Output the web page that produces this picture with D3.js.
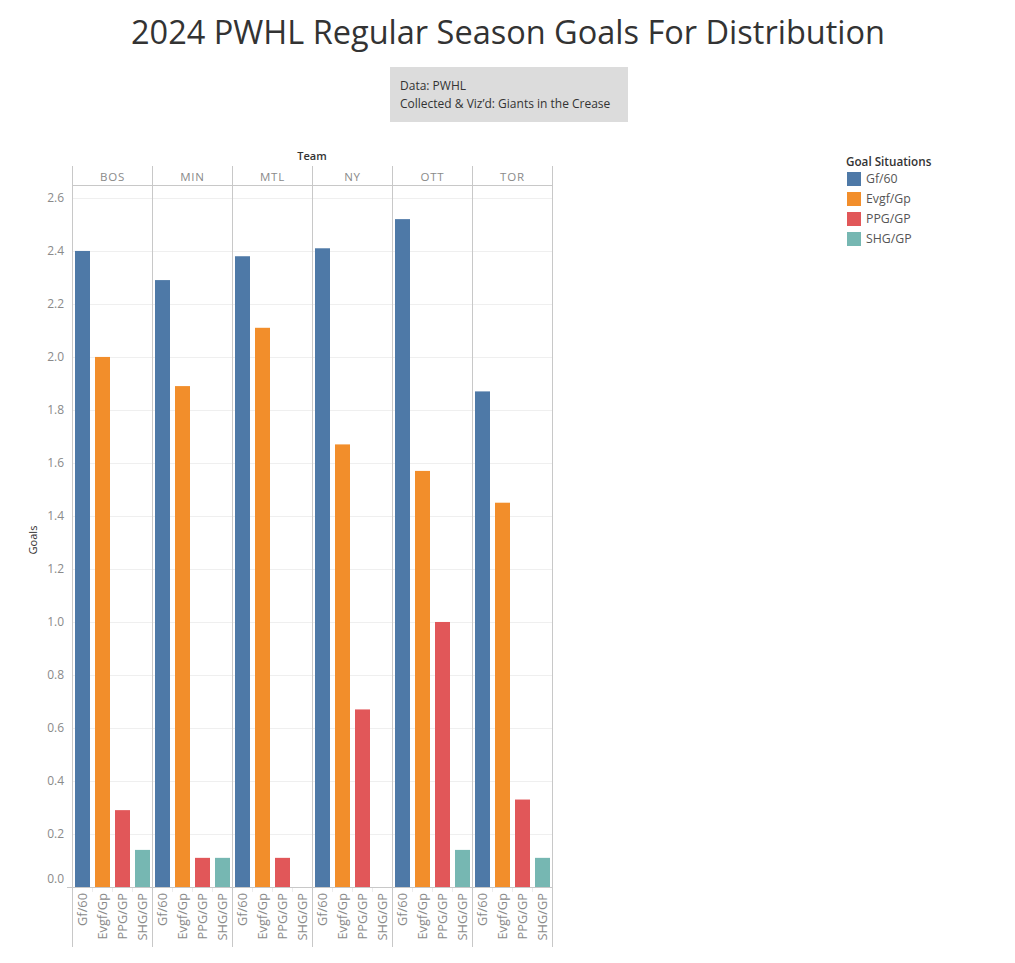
<!DOCTYPE html>
<html>
<head>
<meta charset="utf-8">
<script src="https://cdn.jsdelivr.net/npm/d3@7"></script>
<style>
  body { margin: 0; background: #fff; }
  text { font-family: "Open Sans", "Noto Sans", sans-serif; }
</style>
</head>
<body>
<svg width="1015" height="963"></svg>
<script>
const teams = ["BOS", "MIN", "MTL", "NY", "OTT", "TOR"];
const situations = ["Gf/60", "Evgf/Gp", "PPG/GP", "SHG/GP"];
const colors = ["#4e79a7", "#f28e2b", "#e15759", "#76b7b2"];

// goals per game
const gf60 = [2.40, 2.29, 2.38, 2.41, 2.52, 1.87];
const evgfGp = [2.00, 1.89, 2.11, 1.67, 1.57, 1.45];
const ppgGp = [0.29, 0.11, 0.11, 0.67, 1.00, 0.33];
const shgGp = [0.14, 0.11, 0.00, 0.00, 0.14, 0.11];

const yTicks = [0, 0.2, 0.4, 0.6, 0.8, 1.0, 1.2, 1.4, 1.6, 1.8, 2.0, 2.2, 2.4, 2.6];

document.addEventListener("DOMContentLoaded", function() {
    const svg = d3.select("svg");
    const series = [gf60, evgfGp, ppgGp, shgGp];

    const left = 72.5, right = 552.5;
    const headTop = 166, plotTop = 186, plotBottom = 887, labelBottom = 947;

    const x = d3.scaleBand().domain(teams).range([left, right]);
    const xi = d3.scaleBand().domain(situations).range([0, x.bandwidth()])
        .paddingInner(0.25).paddingOuter(0.125);
    const y = d3.scaleLinear().domain([0, 2.645]).range([plotBottom, plotTop]);
    const color = d3.scaleOrdinal().domain(situations).range(colors);

    // title
    svg.append("text")
        .attr("x", 508).attr("y", 44)
        .attr("text-anchor", "middle")
        .attr("font-size", 32.5)
        .attr("fill", "#333")
        .text("2024 PWHL Regular Season Goals For Distribution");

    // source box
    svg.append("rect")
        .attr("x", 390).attr("y", 67).attr("width", 238).attr("height", 55)
        .attr("fill", "#dcdcdc");
    svg.append("text").attr("x", 400).attr("y", 90)
        .attr("font-size", 12).attr("fill", "#333").text("Data: PWHL");
    svg.append("text").attr("x", 400).attr("y", 108)
        .attr("font-size", 12).attr("fill", "#333").text("Collected & Viz\u2019d: Giants in the Crease");

    // gridlines
    svg.append("g").selectAll("line")
        .data(yTicks.filter(d => d > 0))
        .enter().append("line")
        .attr("x1", left).attr("x2", right)
        .attr("y1", d => Math.round(y(d)) + 0.5).attr("y2", d => Math.round(y(d)) + 0.5)
        .attr("stroke", "#efefef");

    // y axis labels
    svg.append("g").selectAll("text")
        .data(yTicks)
        .enter().append("text")
        .attr("x", 64)
        .attr("y", d => d === 0 ? y(d) - 8 : y(d))
        .attr("dy", "0.35em")
        .attr("text-anchor", "end")
        .attr("font-size", 12)
        .attr("fill", "#8a8a8a")
        .text(d => d3.format(".1f")(d));

    svg.append("text")
        .attr("transform", "translate(37,540) rotate(-90)")
        .attr("text-anchor", "middle")
        .attr("font-size", 11)
        .attr("fill", "#333")
        .text("Goals");

    svg.append("text")
        .attr("x", 312).attr("y", 160)
        .attr("text-anchor", "middle")
        .attr("font-size", 11)
        .attr("font-weight", 600)
        .attr("fill", "#333")
        .text("Team");

    // bars
    const panes = svg.append("g").selectAll("g")
        .data(teams)
        .enter().append("g")
        .attr("transform", t => `translate(${x(t)},0)`);

    panes.selectAll("rect")
        .data((t, ti) => situations.map((s, si) => ({ s: s, v: series[si][ti] })))
        .enter().append("rect")
        .attr("x", d => xi(d.s))
        .attr("width", xi.bandwidth())
        .attr("y", d => y(d.v))
        .attr("height", d => plotBottom - y(d.v))
        .attr("fill", d => color(d.s));

    // team headers
    panes.append("text")
        .attr("x", x.bandwidth() / 2)
        .attr("y", 177)
        .attr("dy", "0.35em")
        .attr("text-anchor", "middle")
        .attr("font-size", 11.5)
        .attr("letter-spacing", 0.8)
        .attr("fill", "#8a8a8a")
        .text(t => t);

    // bottom category labels
    panes.selectAll("text.cat")
        .data(situations)
        .enter().append("text")
        .attr("class", "cat")
        .attr("transform", s => `translate(${xi(s) + xi.bandwidth() / 2},893) rotate(-90)`)
        .attr("dy", "0.35em")
        .attr("text-anchor", "end")
        .attr("font-size", 12.8)
        .attr("fill", "#8a8a8a")
        .text(s => s);

    // small separators between category labels
    panes.selectAll("line.tick")
        .data(situations.slice(1))
        .enter().append("line")
        .attr("class", "tick")
        .attr("x1", s => xi(s) - xi.step() * 0.125).attr("x2", s => xi(s) - xi.step() * 0.125)
        .attr("y1", plotBottom).attr("y2", plotBottom + 5)
        .attr("stroke", "#ececec");

    // pane separators
    const bounds = teams.map(t => x(t)).concat([right]);
    svg.append("g").selectAll("line")
        .data(bounds)
        .enter().append("line")
        .attr("x1", d => d).attr("x2", d => d)
        .attr("y1", headTop).attr("y2", labelBottom)
        .attr("stroke", "#c8c8c8");

    svg.append("line")
        .attr("x1", left).attr("x2", right)
        .attr("y1", plotTop - 0.5).attr("y2", plotTop - 0.5)
        .attr("stroke", "#c8c8c8");
    svg.append("line")
        .attr("x1", 67).attr("x2", right)
        .attr("y1", plotBottom + 0.5).attr("y2", plotBottom + 0.5)
        .attr("stroke", "#c8c8c8");

    // legend
    const legend = svg.append("g").attr("transform", "translate(846,0)");
    legend.append("text")
        .attr("x", 0).attr("y", 166)
        .attr("font-size", 11.7)
        .attr("font-weight", 600)
        .attr("fill", "#333")
        .text("Goal Situations");
    const items = legend.selectAll("g.item")
        .data(situations)
        .enter().append("g")
        .attr("class", "item")
        .attr("transform", (s, i) => `translate(0,${172 + i * 20})`);
    items.append("rect")
        .attr("x", 1).attr("y", 0).attr("width", 14).attr("height", 14)
        .attr("fill", s => color(s));
    items.append("text")
        .attr("x", 20).attr("y", 7)
        .attr("dy", "0.35em")
        .attr("font-size", 12.3)
        .attr("fill", "#555")
        .text(s => s);
});
</script>
</body>
</html>
